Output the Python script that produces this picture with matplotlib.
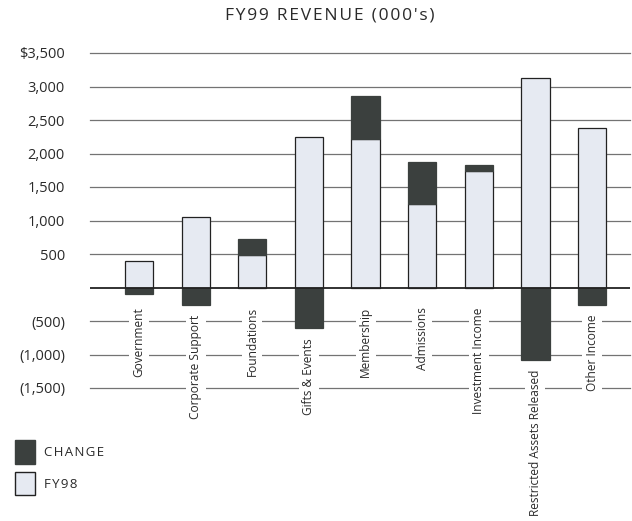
import matplotlib
matplotlib.use("Agg")
import matplotlib.pyplot as plt
from matplotlib.patches import Patch
import numpy as np

categories = ["Government", "Corporate Support", "Foundations", "Gifts & Events",
              "Membership", "Admissions", "Investment Income",
              "Restricted Assets Released", "Other Income"]
fy98 = [400, 1045, 490, 2245, 2220, 1240, 1740, 3120, 2380]
change = [-100, -255, 240, -605, 640, 635, 85, -1080, -255]
yticks = [3500, 3000, 2500, 2000, 1500, 1000, 500, -500, -1000, -1500]
ytick_labels = ["$3,500", "3,000", "2,500", "2,000", "1,500", "1,000", "500",
                "(500)", "(1,000)", "(1,500)"]
title = "FY99 REVENUE (000's)"

DARK = "#3b403e"
LIGHT = "#e6eaf2"
TXT = "#2a2a2a"
FONT = ["Open Sans", "DejaVu Sans"]
plt.rcParams["font.family"] = FONT

W, H = 632, 521
fig = plt.figure(figsize=(W / 100, H / 100), dpi=100)
ax = fig.add_axes([90 / W, (H - 388) / H, (630 - 90) / W, (388 - 53) / H])

x = np.arange(len(categories))
ax.set_xlim(-0.866, 8.67)
ax.set_ylim(-1500, 3500)

# grid lines
for t in yticks:
    ax.axhline(t, color="#737373", lw=0.9, zorder=0, clip_on=False)
ax.axhline(0, color="#222222", lw=1.3, zorder=3)

fy = np.array(fy98)
ch = np.array(change)
bottom_change = np.where(ch > 0, fy, 0)
ax.bar(x, fy, width=0.5, color=LIGHT, edgecolor="#222222", lw=0.9, zorder=2)
ax.bar(x, ch, width=0.5, bottom=bottom_change, color=DARK, edgecolor=DARK,
       lw=0.9, zorder=2)

# category labels below bars
for xi, c, lab in zip(x, ch, categories):
    ytop = min(-295, c - 150)
    ax.text(xi, ytop, lab, rotation=90, ha="center", va="top", fontsize=8.6,
            color=TXT, zorder=4, clip_on=False,
            bbox=dict(facecolor="white", edgecolor="none", pad=2.5))

ax.set_yticks(yticks)
ax.set_yticklabels(ytick_labels, fontsize=10.5, color=TXT)
ax.tick_params(axis="y", length=0, pad=18)
ax.set_xticks([])
for s in ax.spines.values():
    s.set_visible(False)

spaced = "\u200a".join(title)
fig.text(330 / W, 1 - 16 / H, spaced, ha="center", va="center", fontsize=12.5,
         color=TXT)

handles = [Patch(facecolor=DARK, edgecolor=DARK, label="\u200a".join("CHANGE")),
           Patch(facecolor=LIGHT, edgecolor="#222222", label="\u200a".join("FY98"))]
fig.legend(handles=handles, loc="upper left", bbox_to_anchor=(3 / W, 1 - 428 / H),
           frameon=False, fontsize=9.5, handlelength=1.5, handleheight=2.4,
           labelspacing=0.6, handletextpad=0.7, labelcolor=TXT)

fig.savefig("out.png", dpi=100, facecolor="white")
